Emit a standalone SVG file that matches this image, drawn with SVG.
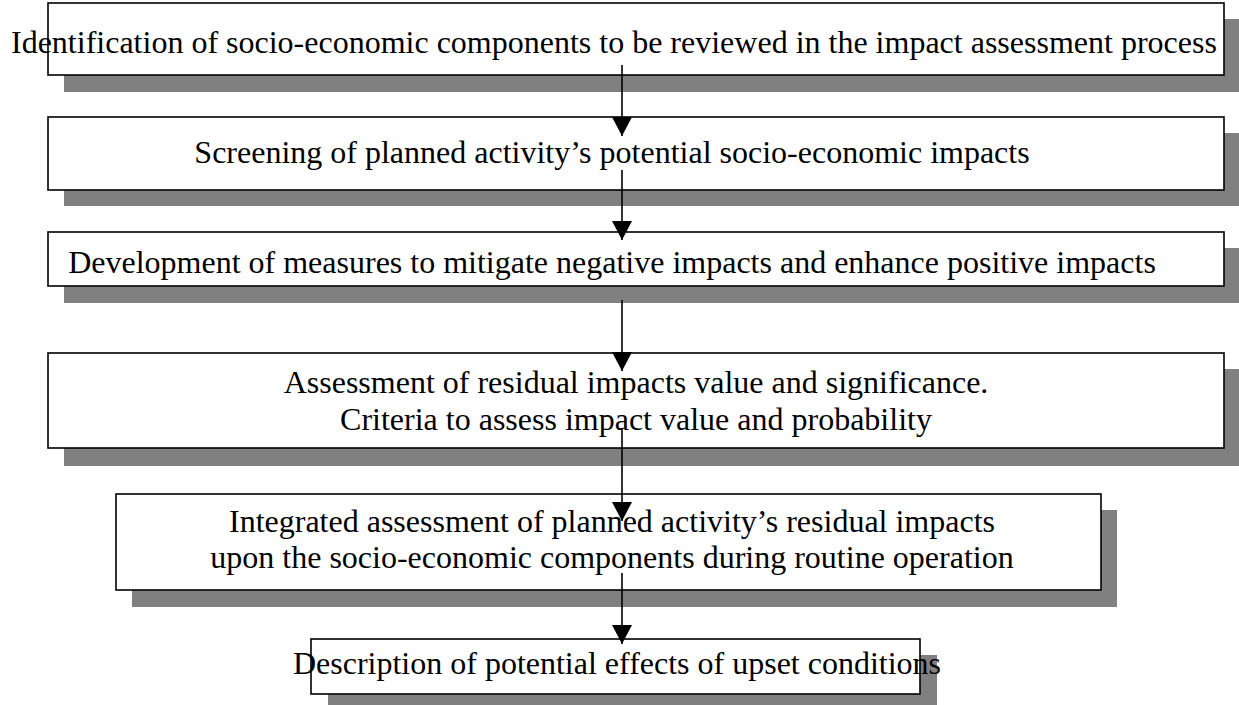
<svg xmlns="http://www.w3.org/2000/svg" width="1239" height="705" viewBox="0 0 1239 705">
<style>
.sh{fill:#808080;stroke:none}
.bx{fill:#fff;stroke:#000;stroke-width:1.6}
.t{font-family:"Liberation Serif","Times New Roman",serif;font-size:32px;fill:#000}
.c{text-anchor:middle}
.ln{stroke:#000;stroke-width:1.6;fill:none}
</style>
<defs>
<marker id="ah" markerUnits="userSpaceOnUse" markerWidth="20" markerHeight="20" refX="19" refY="10" orient="auto" viewBox="0 0 20 20">
<path d="M0,0 L19,10 L0,20 Z" fill="#000"/>
</marker>
</defs>
<g id="n1">
<rect class="sh" x="64" y="19" width="1176" height="73"/>
<rect class="bx" x="48" y="3" width="1176" height="72"/>
<text class="t" x="11" y="53">Identification of socio-economic components to be reviewed in the impact assessment process</text>
</g>
<g id="n2">
<rect class="sh" x="64" y="133" width="1176" height="73"/>
<rect class="bx" x="48" y="117" width="1176" height="73"/>
<text class="t c" x="612" y="163">Screening of planned activity’s potential socio-economic impacts</text>
</g>
<g id="n3">
<rect class="sh" x="64" y="248" width="1176" height="55"/>
<rect class="bx" x="48" y="232" width="1176" height="54"/>
<text class="t c" x="612" y="273">Development of measures to mitigate negative impacts and enhance positive impacts</text>
</g>
<g id="n4">
<rect class="sh" x="64" y="369" width="1176" height="97"/>
<rect class="bx" x="48" y="353" width="1176" height="95"/>
<text class="t c" x="636" y="393">Assessment of residual impacts value and significance.</text>
<text class="t c" x="636" y="430">Criteria to assess impact value and probability</text>
</g>
<g id="n5">
<rect class="sh" x="132" y="510" width="985" height="97"/>
<rect class="bx" x="116" y="494" width="985" height="96"/>
<text class="t c" x="612" y="532">Integrated assessment of planned activity’s residual impacts</text>
<text class="t c" x="612" y="568">upon the socio-economic components during routine operation</text>
</g>
<g id="n6">
<rect class="sh" x="328" y="655" width="609" height="55"/>
<rect class="bx" x="311" y="639" width="609" height="55"/>
<text class="t c" x="617" y="674">Description of potential effects of upset conditions</text>
</g>
<g id="connectors">
<line class="ln" x1="622" y1="65" x2="622" y2="136" marker-end="url(#ah)"/>
<line class="ln" x1="622" y1="170" x2="622" y2="240" marker-end="url(#ah)"/>
<line class="ln" x1="622" y1="300" x2="622" y2="371" marker-end="url(#ah)"/>
<line class="ln" x1="622" y1="428" x2="622" y2="521" marker-end="url(#ah)"/>
<line class="ln" x1="622" y1="573" x2="622" y2="644" marker-end="url(#ah)"/>
</g>
</svg>
